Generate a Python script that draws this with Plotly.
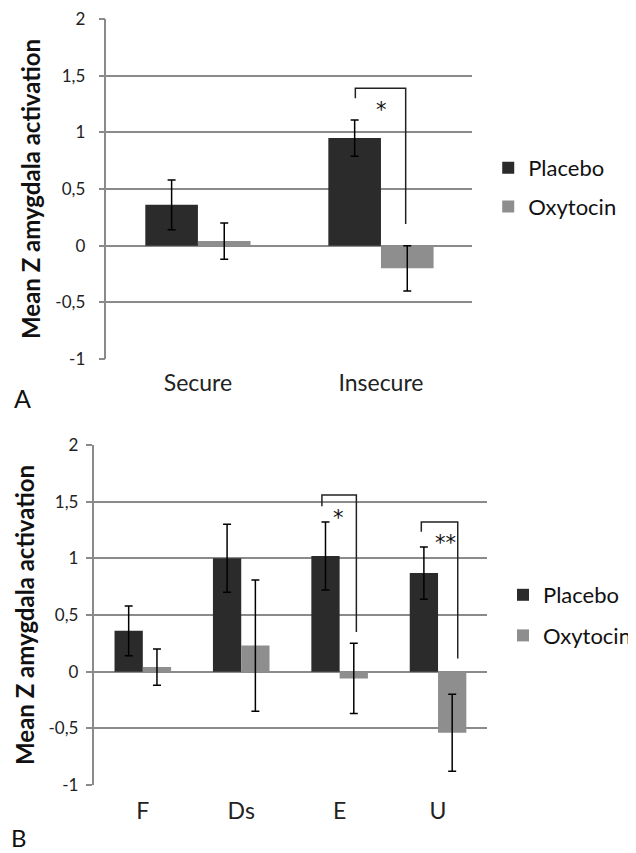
import plotly.graph_objects as go

# ---------------- data ----------------
cats_a = ["Secure", "Insecure"]
placebo_a = [0.36, 0.95]
placebo_a_err = [0.22, 0.16]
oxy_a = [0.04, -0.20]
oxy_a_err = [0.16, 0.20]

cats_b = ["F", "Ds", "E", "U"]
placebo_b = [0.36, 1.00, 1.02, 0.87]
placebo_b_err = [0.22, 0.30, 0.30, 0.23]
oxy_b = [0.04, 0.23, -0.06, -0.54]
oxy_b_err = [0.16, 0.58, 0.31, 0.34]

ytick_vals = [-1, -0.5, 0, 0.5, 1, 1.5, 2]
ytick_text = ["-1", "-0,5", "0", "0,5", "1", "1,5", "2"]

# significance brackets:
# (category index, left offset, right offset, left end, top, right end, label, label x offset, label y)
sig_a = [(1, -0.14, 0.135, 1.30, 1.39, 0.19, "*", 0.005, 1.22)]
sig_b = [(2, -0.18, 0.17, 1.46, 1.56, 0.35, "*", -0.01, 1.38),
         (3, -0.17, 0.20, 1.235, 1.32, 0.115, "**", 0.08, 1.16)]

# ---------------- style ----------------
FONT = "Lato"
DARK = "#2b2b2b"
GREY = "#8e8e8e"
GRID = "#8a8a8a"
OFF = 8                      # page body margin
W, H = 636 - OFF, 853 - OFF

def fx(x):  # window px -> paper x
    return (x - OFF) / W

def fy(y):  # window px -> paper y
    return 1 - (y - OFF) / H

fig = go.Figure()

def add_pair(cats, p, pe, o, oe, xa, ya, leg):
    fig.add_trace(go.Bar(
        x=cats, y=p, name="Placebo", marker=dict(color=DARK, line=dict(width=0)),
        error_y=dict(type="data", array=pe, color="black", thickness=1.5, width=4),
        xaxis=xa, yaxis=ya, legend=leg, legendgroup=leg + "p"))
    fig.add_trace(go.Bar(
        x=cats, y=o, name="Oxytocin", marker=dict(color=GREY, line=dict(width=0)),
        error_y=dict(type="data", array=oe, color="black", thickness=1.5, width=4),
        xaxis=xa, yaxis=ya, legend=leg, legendgroup=leg + "o"))

add_pair(cats_a, placebo_a, placebo_a_err, oxy_a, oxy_a_err, "x", "y", "legend")
add_pair(cats_b, placebo_b, placebo_b_err, oxy_b, oxy_b_err, "x2", "y2", "legend2")

def yaxis_style(domain, anchor, standoff, title_standoff):
    return dict(domain=domain, anchor=anchor, range=[-1.0004, 2.0004], tickvals=ytick_vals,
                ticktext=ytick_text, automargin=False,
                showgrid=True, gridcolor=GRID, gridwidth=1.5, zeroline=False,
                showline=True, linecolor=GRID, linewidth=1.5,
                ticks="outside", ticklen=6, tickcolor=GRID, tickwidth=1.5,
                ticklabelstandoff=standoff,
                tickfont=dict(family=FONT, size=17, color="#222"),
                title=dict(text="Mean Z amygdala activation",
                           font=dict(family=FONT, size=24, color="#111", weight="bold"),
                           standoff=title_standoff),
                fixedrange=True)

def xaxis_style(domain, anchor, standoff):
    return dict(domain=domain, anchor=anchor, showgrid=False, zeroline=False,
                showline=False, ticks="", ticklabelstandoff=standoff, automargin=False,
                tickfont=dict(family=FONT, size=23, color="#222"), fixedrange=True)

fig.update_layout(
    width=W, height=H,
    margin=dict(l=0, r=0, t=0, b=0),
    paper_bgcolor="white", plot_bgcolor="white",
    barmode="group", bargap=0.425, bargroupgap=0,
    xaxis=xaxis_style([fx(108), fx(480)], "y", 8),
    yaxis=yaxis_style([fy(359), fy(19)], "x", 10, 8),
    xaxis2=xaxis_style([fx(95), fx(495)], "y2", 10),
    yaxis2=yaxis_style([fy(785), fy(445)], "x2", 4, 7),
    legend=dict(x=fx(496), y=fy(147), xanchor="left", yanchor="top",
                font=dict(family=FONT, size=22, color="#111"), tracegroupgap=7,
                bgcolor="rgba(0,0,0,0)"),
    legend2=dict(x=fx(511), y=fy(574), xanchor="left", yanchor="top",
                 font=dict(family=FONT, size=22, color="#111"), tracegroupgap=9,
                 bgcolor="rgba(0,0,0,0)"),
    showlegend=True,
)

def add_brackets(sigs, xr, yr):
    for (ci, lo, ro, yl, yt, yrgt, lab, lx, ly) in sigs:
        xl, xrr = ci + lo, ci + ro
        fig.add_shape(type="path", xref=xr, yref=yr,
                      path=f"M {xl},{yl} L {xl},{yt} L {xrr},{yt} L {xrr},{yrgt}",
                      line=dict(color="#222", width=1.5))
        fig.add_annotation(x=ci + lx, y=ly, xref=xr, yref=yr, text=lab,
                           showarrow=False, xanchor="center", yanchor="middle", yshift=-3,
                           font=dict(family="DejaVu Sans", size=21, color="#111"))

add_brackets(sig_a, "x", "y")
add_brackets(sig_b, "x2", "y2")

fig.add_annotation(x=fx(23), y=fy(398), xref="paper", yref="paper", text="A",
                   xanchor="center", yanchor="middle",
                   showarrow=False, font=dict(family=FONT, size=25, color="#111"))
fig.add_annotation(x=fx(19), y=fy(837), xref="paper", yref="paper", text="B",
                   xanchor="center", yanchor="middle",
                   showarrow=False, font=dict(family=FONT, size=24, color="#111"))

fig.write_html("out.html")
